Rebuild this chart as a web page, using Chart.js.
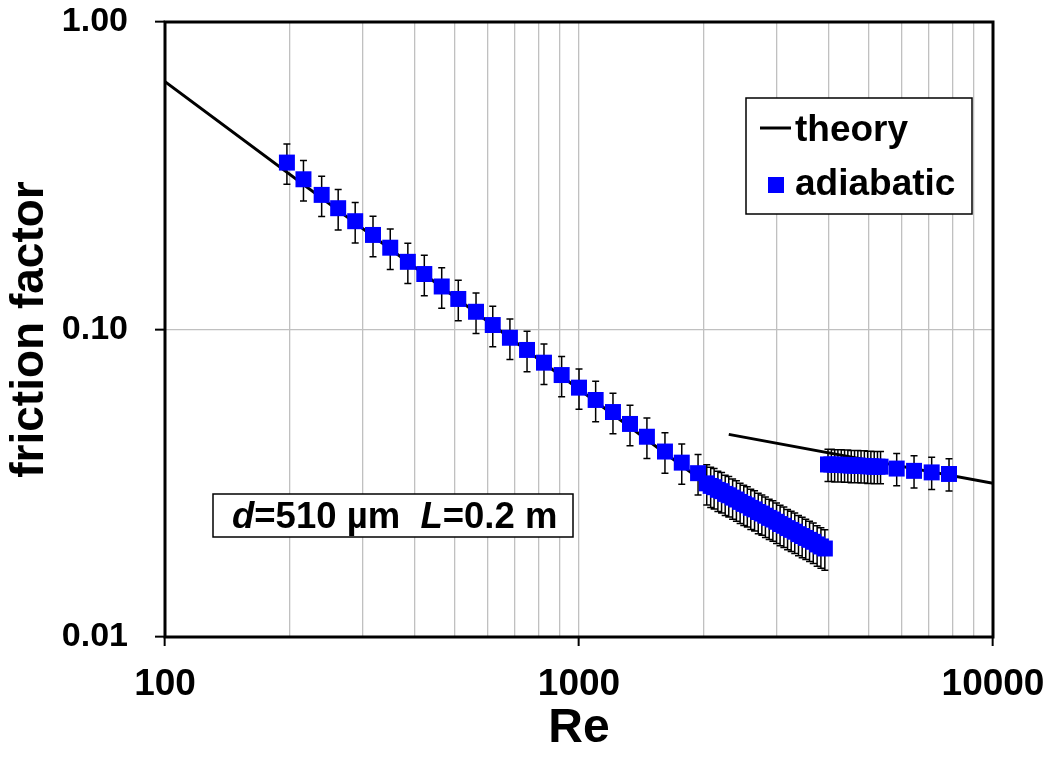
<!DOCTYPE html>
<html>
<head>
<meta charset="utf-8">
<script src="https://cdn.jsdelivr.net/npm/chart.js@4.4.1/dist/chart.umd.min.js"></script>
<style>
  html, body { margin: 0; background: #fff; }
</style>
</head>
<body>
<canvas id="c" width="1050" height="758"></canvas>
<script>
// theory: laminar 64/Re, then Blasius after the break
const THEORY_RE = [100, 2300, 2300, 2300, 10000];
const THEORY_F = [0.64, 0.0278, null, 0.0456, 0.0316];

// measured points, laminar branch
const RE_LAM = [197, 216, 239, 262, 288, 318, 350, 386, 423, 466, 511, 564, 619, 681, 749, 823, 908, 1000, 1097, 1208, 1328, 1459, 1613, 1771, 1939,
  2035, 2080, 2120, 2165, 2210, 2255, 2300, 2350, 2400, 2450, 2500, 2550, 2600, 2655, 2710, 2765, 2820, 2880, 2940, 3000, 3060, 3125, 3190, 3255, 3320, 3390, 3460, 3530, 3605, 3680, 3760, 3840, 3925];
const F_LAM = [0.349, 0.308, 0.274, 0.248, 0.225, 0.203, 0.1845, 0.166, 0.1515, 0.138, 0.1257, 0.1142, 0.1034, 0.094, 0.0858, 0.078, 0.0711, 0.0647, 0.059, 0.0539, 0.0493, 0.0448, 0.0401, 0.0369, 0.0341,
  0.0316, 0.0310, 0.0307, 0.0301, 0.0298, 0.0292, 0.0289, 0.0284, 0.0280, 0.0275, 0.0271, 0.0268, 0.0263, 0.0260, 0.0255, 0.0252, 0.0248, 0.0244, 0.0241, 0.0237, 0.0233, 0.0230, 0.0226, 0.0223, 0.0220, 0.0216, 0.0213, 0.0210, 0.0207, 0.0204, 0.0200, 0.0197, 0.0194];

// measured points, turbulent branch
const RE_TURB = [3994, 4070, 4145, 4220, 4300, 4380, 4460, 4545, 4630, 4715, 4800, 4890, 4980, 5070, 5165, 5260, 5350, 5853, 6446, 7110, 7830];
const F_TURB = [0.0364, 0.0364, 0.0363, 0.0363, 0.0363, 0.0362, 0.0362, 0.0361, 0.0361, 0.0361, 0.0360, 0.0360, 0.0359, 0.0359, 0.0358, 0.0358, 0.0358, 0.0353, 0.0347, 0.0343, 0.0339];

// relative uncertainty of each branch
const ERR_LAM = 0.15;
const ERR_TURB = 0.12;

const X_TICKS = [100, 200, 300, 400, 500, 600, 700, 800, 900, 1000, 2000, 3000, 4000, 5000, 6000, 7000, 8000, 9000, 10000];
const X_LABELS = [100, 1000, 10000];
const Y_TICKS = [0.01, 0.1, 1];

const FONT = "'Liberation Sans', Arial, sans-serif";

const points = [
  ...RE_LAM.map((x, i) => ({ x, y: F_LAM[i], e: ERR_LAM })),
  ...RE_TURB.map((x, i) => ({ x, y: F_TURB[i], e: ERR_TURB })),
];

const errorBars = {
  id: "errorBars",
  beforeDatasetDraw(chart, args) {
    const ds = chart.data.datasets[args.index];
    if (!ds.errorBars) return;
    const { ctx, chartArea: a } = chart;
    const xs = chart.scales.x, ys = chart.scales.y;
    ctx.save();
    ctx.beginPath();
    ctx.rect(a.left, a.top, a.right - a.left, a.bottom - a.top);
    ctx.clip();
    ctx.strokeStyle = "#000";
    ctx.lineWidth = 1.5;
    ctx.beginPath();
    for (const p of ds.data) {
      const px = xs.getPixelForValue(p.x);
      const t = ys.getPixelForValue(p.y * (1 + p.e));
      const b = ys.getPixelForValue(p.y * (1 - p.e));
      ctx.moveTo(px, t); ctx.lineTo(px, b);
      ctx.moveTo(px - 3.5, t); ctx.lineTo(px + 3.5, t);
      ctx.moveTo(px - 3.5, b); ctx.lineTo(px + 3.5, b);
    }
    ctx.stroke();
    ctx.restore();
  },
};

const frame = {
  id: "frame",
  afterDatasetsDraw(chart) {
    const { ctx, chartArea: a } = chart;
    ctx.save();
    ctx.strokeStyle = "#000";
    ctx.lineWidth = 3;
    ctx.strokeRect(a.left, a.top, a.right - a.left, a.bottom - a.top);
    ctx.restore();
  },
};

// legend box and the d / L note
const boxes = {
  id: "boxes",
  afterDraw(chart) {
    const ctx = chart.ctx;
    const [th, ad] = [chart.data.datasets[1], chart.data.datasets[0]];
    ctx.save();
    ctx.fillStyle = "#fff";
    ctx.strokeStyle = "#000";
    ctx.lineWidth = 1.5;
    ctx.fillRect(746, 98, 226, 116);
    ctx.strokeRect(746, 98, 226, 116);

    ctx.beginPath();
    ctx.moveTo(760, 128); ctx.lineTo(791, 128);
    ctx.lineWidth = 3;
    ctx.stroke();
    ctx.fillStyle = "#0000ff";
    ctx.fillRect(768, 177, 16, 16);

    ctx.fillStyle = "#000";
    ctx.font = `bold 37px ${FONT}`;
    ctx.textBaseline = "alphabetic";
    ctx.fillText(th.label, 795, 141);
    ctx.fillText(ad.label, 795, 195);

    ctx.fillStyle = "#fff";
    ctx.lineWidth = 1.5;
    ctx.fillRect(213, 494, 360, 43);
    ctx.strokeRect(213, 494, 360, 43);
    ctx.fillStyle = "#000";
    const parts = [["d", true], ["=510 µm  ", false], ["L", true], ["=0.2 m", false]];
    let x = 232;
    for (const [s, it] of parts) {
      ctx.font = `${it ? "italic " : ""}bold 36.5px ${FONT}`;
      ctx.fillText(s, x, 528);
      x += ctx.measureText(s).width;
    }
    ctx.restore();
  },
};

new Chart(document.getElementById("c"), {
  type: "scatter",
  data: {
    datasets: [
      {
        label: "adiabatic",
        data: points,
        errorBars: true,
        pointStyle: "rect",
        pointRadius: 11.3,
        backgroundColor: "#0000ff",
        borderWidth: 0,
        order: 1,
      },
      {
        label: "theory",
        data: THEORY_RE.map((x, i) => ({ x, y: THEORY_F[i] })),
        showLine: true,
        spanGaps: false,
        borderColor: "#000",
        borderWidth: 3,
        pointRadius: 0,
        order: 2,
      },
    ],
  },
  options: {
    responsive: false,
    animation: false,
    devicePixelRatio: 1,
    layout: { padding: { top: 22, right: 57, left: 0, bottom: 0 } },
    plugins: { legend: { display: false }, tooltip: { enabled: false } },
    scales: {
      x: {
        type: "logarithmic",
        min: 100,
        max: 10000,
        afterBuildTicks: (s) => { s.ticks = X_TICKS.map((v) => ({ value: v })); },
        afterFit: (s) => {
          s.height = 121;
          s.paddingLeft = 0;
          s.paddingRight = 0;
        },
        border: { display: false },
        grid: {
          color: "#c0c0c0",
          lineWidth: 1.3,
          tickLength: 9,
          tickWidth: 2,
          tickColor: (c) => (X_LABELS.includes(c.tick.value) ? "#000" : "rgba(0,0,0,0)"),
        },
        ticks: {
          autoSkip: false,
          maxRotation: 0,
          padding: 17,
          color: "#000",
          font: { family: FONT, size: 37, weight: "bold" },
          callback: (v) => (X_LABELS.includes(v) ? String(v) : ""),
        },
        title: {
          display: true,
          text: "Re",
          color: "#000",
          font: { family: FONT, size: 48, weight: "bold" },
          padding: { top: 0, bottom: 0 },
        },
      },
      y: {
        type: "logarithmic",
        min: 0.01,
        max: 1,
        afterBuildTicks: (s) => { s.ticks = Y_TICKS.map((v) => ({ value: v })); },
        afterFit: (s) => {
          s.width = 165;
          s.paddingTop = 0;
          s.paddingBottom = 0;
        },
        border: { display: false },
        grid: {
          color: "#c0c0c0",
          lineWidth: 1.3,
          tickLength: 10,
          tickWidth: 2,
          tickColor: "#000",
        },
        ticks: {
          padding: 27,
          color: "#000",
          font: { family: FONT, size: 34, weight: "bold" },
          callback: (v) => Number(v).toFixed(2),
        },
        title: {
          display: true,
          text: "friction factor",
          color: "#000",
          font: { family: FONT, size: 46, weight: "bold" },
          padding: { top: 3, bottom: 0 },
        },
      },
    },
  },
  plugins: [errorBars, frame, boxes],
});
</script>
</body>
</html>
